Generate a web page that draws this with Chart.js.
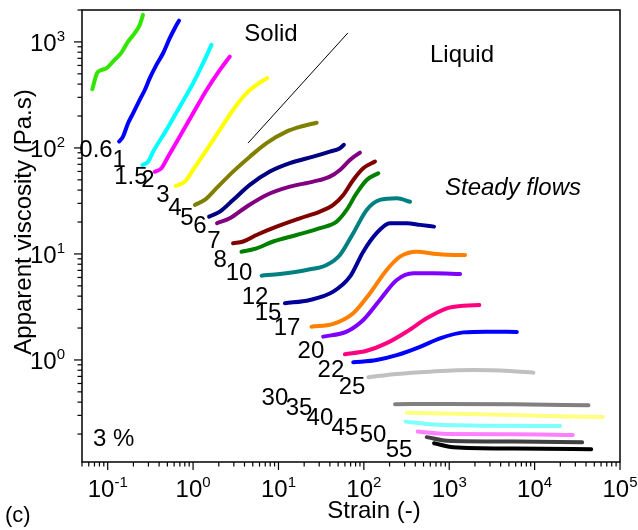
<!DOCTYPE html>
<html>
<head>
<meta charset="utf-8">
<script src="https://cdn.jsdelivr.net/npm/chart.js@4.4.1/dist/chart.umd.min.js"></script>
<style>
  html, body { margin: 0; padding: 0; background: #fff; }
  #wrap { width: 638px; height: 530px; position: relative; }
</style>
</head>
<body>
<div id="wrap"><canvas id="chart"></canvas></div>
<script>
// concentration of each run (curve labels)
const concentrations = ['0.6', '1', '1.5', '2', '3', '4', '5', '6', '7', '8', '10', '12',
  '15', '17', '20', '22', '25', '30', '35', '40', '45', '50', '55'];

// strain (-) for each run
const strain = [
  [0.066, 0.075, 0.081, 0.097, 0.115, 0.145, 0.173, 0.207, 0.237, 0.259],
  [0.136, 0.151, 0.173, 0.198, 0.237, 0.272, 0.311, 0.372, 0.445, 0.533, 0.61, 0.685],
  [0.255, 0.297, 0.34, 0.488, 0.698, 1.0, 1.31, 1.64],
  [0.356, 0.426, 0.509, 0.698, 1.0, 1.44, 2.06, 2.69],
  [0.627, 0.8, 1.0, 1.44, 2.06, 2.94, 4.23, 5.53, 7.37],
  [1.05, 1.37, 1.88, 2.94, 4.62, 7.25, 12.4, 19.5, 28.0],
  [1.54, 2.06, 2.94, 4.62, 7.93, 13.6, 25.5, 40, 52.5, 58.4],
  [1.91, 2.69, 4.23, 7.25, 13.6, 25.5, 40, 52.5, 68.7, 90],
  [2.94, 3.86, 5.53, 9.5, 17.8, 30.6, 43.8, 57.4, 75.1, 98.4, 135],
  [3.69, 5.53, 8.67, 16.3, 30.6, 48, 62.9, 82.3, 108, 147.5],
  [6.34, 10.4, 21.3, 36.6, 52.5, 75.1, 108, 154, 243, 347],
  [11.9, 23.3, 43.8, 68.7, 98.4, 141, 202, 318, 455, 664],
  [24.4, 43.8, 75.1, 118, 185, 265, 416, 713, 1117, 1531],
  [33.4, 62.9, 98.4, 154, 243, 380, 651, 1339],
  [60, 108, 185, 318, 545, 935, 1464, 2253],
  [75.1, 141, 243, 455, 780, 1464, 2752, 6187],
  [113, 243, 596, 1918, 5160, 9680],
  [232, 935, 5640, 42700],
  [318, 2297, 13900, 63000],
  [309, 596, 2297, 19900],
  [427, 935, 5640, 28000],
  [545, 935, 5640, 36000],
  [664, 1117, 5640, 46000]
];

// apparent viscosity (Pa.s) for each run
const viscosity = [
  [358, 507, 536, 565, 652, 793, 1007, 1208, 1446, 1798],
  [115, 128, 171, 212, 284, 352, 455, 607, 782, 1084, 1346, 1588],
  [69, 74, 92, 148, 245, 408, 630, 937],
  [59.7, 64.3, 82.7, 128, 212, 352, 544, 727],
  [43.8, 48.1, 62, 95.7, 148, 228, 328, 393, 455],
  [29, 32.3, 41.7, 59.8, 82.7, 111, 142.5, 161, 173],
  [22.5, 25.1, 32.3, 44.8, 59.8, 71.8, 82.7, 92.3, 99.3, 107],
  [19.5, 21.7, 27.9, 36, 43.1, 48.1, 53.6, 62, 77, 90.3],
  [12.6, 13.1, 15.1, 18.1, 21.7, 25.1, 29, 36, 49.9, 64.3, 74.3],
  [10.5, 11.3, 13.1, 15.1, 17.5, 20.2, 26, 37.4, 49.9, 57.7],
  [6.24, 6.48, 7.06, 7.87, 9.79, 15.7, 26, 32.3, 33.5, 31.1],
  [3.43, 3.68, 4.41, 6.1, 10.5, 15.7, 19.5, 19.5, 18.8, 18.1],
  [2.06, 2.19, 2.76, 4.26, 7.06, 9.44, 10.5, 10, 9.79, 9.79],
  [1.66, 1.85, 2.38, 3.68, 5.68, 6.58, 6.58, 6.48],
  [1.13, 1.22, 1.44, 1.85, 2.47, 3.07, 3.25, 3.3],
  [0.95, 1.0, 1.11, 1.33, 1.6, 1.82, 1.85, 1.84],
  [0.687, 0.738, 0.776, 0.805, 0.787, 0.759],
  [0.382, 0.385, 0.382, 0.374],
  [0.318, 0.308, 0.296, 0.29],
  [0.262, 0.247, 0.24, 0.238],
  [0.211, 0.2, 0.199, 0.196],
  [0.187, 0.173, 0.17, 0.167],
  [0.164, 0.15, 0.146, 0.144]
];

// solid / liquid guide line
const guideStrain = [4.4, 65];
const guideVisc = [111, 1216];

// tick decades
const xDecades = [-1, 0, 1, 2, 3, 4, 5];
const yDecades = [0, 1, 2, 3];

const lineColors = ['#33e600', '#0000ff', '#00ffff', '#ff00ff', '#ffff00', '#808000', '#000080',
  '#800080', '#800000', '#008000', '#008080', '#000099', '#ff8000', '#8000ff', '#ff0080',
  '#0000ff', '#c0c0c0', '#808080', '#ffff80', '#80ffff', '#ff80ff', '#404040', '#000000'];

// where each concentration label sits (strain, viscosity)
const labelAt = [
  [0.073, 95.5], [0.136, 76.9], [0.187, 53.2], [0.296, 49.8], [0.444, 35.9], [0.614, 27.1],
  [0.848, 21.8], [1.2, 18.3], [1.76, 13.2], [2.07, 8.75], [3.45, 6.6], [5.31, 3.92],
  [7.54, 2.77], [12.6, 2.0], [24, 1.21], [41.2, 0.806], [72.6, 0.557], [9.1, 0.437],
  [17.4, 0.352], [30.6, 0.283], [60, 0.228], [128, 0.196], [258, 0.141]
];

const FONT = '"Liberation Sans", Arial, sans-serif';

const datasets = strain.map((xs, i) => ({
  label: concentrations[i],
  data: xs.map((x, j) => ({ x: x, y: viscosity[i][j] })),
  borderColor: lineColors[i],
  borderWidth: 4,
  borderCapStyle: 'round',
  borderJoinStyle: 'round',
  pointRadius: 0,
  cubicInterpolationMode: 'monotone',
  fill: false
}));
datasets.push({
  label: 'guide',
  data: guideStrain.map((x, j) => ({ x: x, y: guideVisc[j] })),
  borderColor: '#000',
  borderWidth: 1,
  pointRadius: 0,
  fill: false
});

function drawPow(ctx, exp, x, y, mode) {
  ctx.font = '24px ' + FONT;
  const wb = ctx.measureText('10').width;
  ctx.font = '15px ' + FONT;
  const we = ctx.measureText(exp).width;
  let left;
  if (mode === 'center') left = x - (wb + we) / 2;
  else left = x - wb - we;
  ctx.textAlign = 'left';
  ctx.textBaseline = 'alphabetic';
  ctx.font = '24px ' + FONT;
  ctx.fillText('10', left, y);
  ctx.font = '15px ' + FONT;
  ctx.fillText(exp, left + wb, y - 10);
}

const axesPlugin = {
  id: 'axesPlugin',
  afterDraw(chart) {
    const ctx = chart.ctx;
    const a = chart.chartArea;
    const xs = chart.scales.x, ys = chart.scales.y;
    ctx.save();
    ctx.strokeStyle = '#000';
    ctx.fillStyle = '#000';
    ctx.lineWidth = 1.5;
    ctx.strokeRect(a.left, a.top, a.right - a.left, a.bottom - a.top);

    // x ticks
    ctx.lineWidth = 1.2;
    for (let d = -2; d <= 5; d++) {
      for (let m = 1; m <= 9; m++) {
        const v = m * Math.pow(10, d);
        if (v < xs.min * 0.999 || v > xs.max * 1.001) continue;
        const px = xs.getPixelForValue(v);
        ctx.beginPath();
        ctx.moveTo(px, a.bottom);
        ctx.lineTo(px, a.bottom + (m === 1 ? 8 : 4.5));
        ctx.stroke();
      }
    }
    // y ticks
    for (let d = -1; d <= 4; d++) {
      for (let m = 1; m <= 9; m++) {
        const v = m * Math.pow(10, d);
        if (v < ys.min * 0.999 || v > ys.max * 1.001) continue;
        const py = ys.getPixelForValue(v);
        ctx.beginPath();
        ctx.moveTo(a.left, py);
        ctx.lineTo(a.left - (m === 1 ? 8 : 4.5), py);
        ctx.stroke();
      }
    }

    // tick labels
    xDecades.forEach(d => {
      drawPow(ctx, String(d), xs.getPixelForValue(Math.pow(10, d)), a.bottom + 35, 'center');
    });
    yDecades.forEach(d => {
      const py = ys.getPixelForValue(Math.pow(10, d));
      drawPow(ctx, String(d), a.left - 17, py + 9, 'right');
    });

    // axis titles
    ctx.font = '24px ' + FONT;
    ctx.textAlign = 'center';
    ctx.textBaseline = 'alphabetic';
    ctx.fillText('Strain (-)', 374, 518);
    ctx.save();
    ctx.translate(31, 222);
    ctx.rotate(-Math.PI / 2);
    ctx.fillText('Apparent viscosity (Pa.s)', 0, 0);
    ctx.restore();

    // curve labels
    ctx.textBaseline = 'middle';
    ctx.textAlign = 'center';
    labelAt.forEach((p, i) => {
      ctx.fillText(concentrations[i], xs.getPixelForValue(p[0]), ys.getPixelForValue(p[1]));
    });

    // annotations
    ctx.textBaseline = 'alphabetic';
    ctx.fillText('Solid', 271, 41);
    ctx.fillText('Liquid', 462, 62);
    ctx.font = 'italic 24px ' + FONT;
    ctx.fillText('Steady flows', 513, 195);
    ctx.font = '24px ' + FONT;
    ctx.textAlign = 'left';
    ctx.fillText('3 %', 93, 446);
    ctx.font = '22px ' + FONT;
    ctx.fillText('(c)', 5, 522);
    ctx.restore();
  }
};

new Chart(document.getElementById('chart'), {
  type: 'line',
  data: { datasets: datasets },
  options: {
    responsive: true,
    maintainAspectRatio: false,
    animation: false,
    layout: { padding: { left: 82, right: 18, top: 10, bottom: 68 } },
    plugins: { legend: { display: false }, tooltip: { enabled: false } },
    scales: {
      x: { type: 'logarithmic', min: 0.05, max: 100000, display: false },
      y: { type: 'logarithmic', min: 0.109, max: 2000, display: false }
    }
  },
  plugins: [axesPlugin]
});
</script>
</body>
</html>
